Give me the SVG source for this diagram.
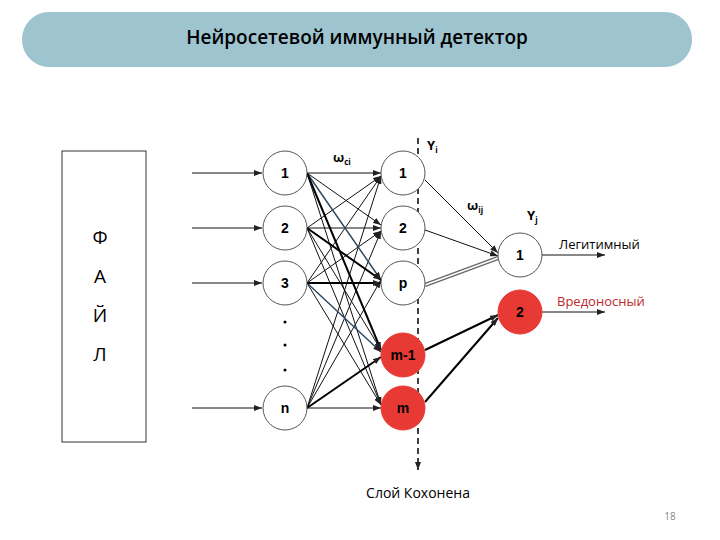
<svg xmlns="http://www.w3.org/2000/svg" width="720" height="540" viewBox="0 0 720 540">
<defs>
<marker id="a" markerWidth="8" markerHeight="6" refX="8" refY="3" orient="auto" markerUnits="userSpaceOnUse"><path d="M0,0 L8,3 L0,6 Z" fill="#222"/></marker>
<style>
.t{font-family:"Open Sans","Liberation Sans",sans-serif}
.n{fill:#fff;stroke:#555;stroke-width:1}
.r{fill:#e83a35;stroke:#e83a35}
line{marker-end:url(#a)}
.l{stroke:#111;stroke-width:1}
.b{stroke:#2c4a66;stroke-width:1.5}
.k{stroke:#000;stroke-width:2}
.lb{font-size:14px;font-weight:bold;text-anchor:middle;font-family:"Liberation Sans",sans-serif}
</style>
</defs>
<rect x="22" y="12" width="670" height="55" rx="27" fill="#9ec4d0"/>
<text class="t" x="357" y="44" font-size="19" font-weight="600" text-anchor="middle">Нейросетевой иммунный детектор</text>
<g id="file"><rect x="62" y="151" width="84" height="291" fill="#fff" stroke="#333"/>
<text class="t" font-size="19" text-anchor="middle"><tspan x="100" y="244">Ф</tspan><tspan x="100" y="283">А</tspan><tspan x="100" y="322">Й</tspan><tspan x="100" y="361">Л</tspan></text></g>
<g id="connectors">
<g class="l">
<line x1="192" y1="173" x2="262" y2="173"/><line x1="192" y1="228" x2="262" y2="228"/><line x1="192" y1="283" x2="262" y2="283"/><line x1="192" y1="408" x2="262" y2="408"/>
<line x1="307" y1="173" x2="381" y2="173"/><line x1="307" y1="173" x2="381" y2="225"/><line x1="307" y1="173" x2="381" y2="405"/>
<line x1="307" y1="228" x2="381" y2="176"/><line x1="307" y1="228" x2="381" y2="228"/><line x1="307" y1="228" x2="381" y2="350"/><line x1="307" y1="228" x2="381" y2="405"/>
<line x1="307" y1="283" x2="381" y2="176"/><line x1="307" y1="283" x2="381" y2="231"/><line x1="307" y1="283" x2="381" y2="405"/>
<line x1="307" y1="408" x2="381" y2="176"/><line x1="307" y1="408" x2="381" y2="231"/><line x1="307" y1="408" x2="381" y2="280"/><line x1="307" y1="408" x2="381" y2="408"/>
<line x1="425" y1="180" x2="498" y2="253"/><line x1="425" y1="230" x2="498" y2="256"/>
<line x1="542" y1="255" x2="605" y2="255"/><line x1="542" y1="312" x2="605" y2="312"/>
</g>
<g class="b"><line x1="307" y1="173" x2="381" y2="280"/><line x1="307" y1="283" x2="381" y2="352"/></g>
<g class="k"><line x1="307" y1="173" x2="381" y2="350"/><line x1="307" y1="228" x2="381" y2="280"/><line x1="307" y1="283" x2="381" y2="283"/><line x1="307" y1="408" x2="381" y2="357"/>
<line x1="425" y1="350" x2="498" y2="315"/><line x1="425" y1="402" x2="498" y2="318"/></g>
<path d="M425,285L498,258" stroke="#666" stroke-width="4" fill="none"/>
<path d="M425,285L498,258" stroke="#fff" stroke-width="1.5" fill="none"/>
<path d="M418,138V470" stroke="#000" stroke-width="1.5" stroke-dasharray="6,4" fill="none" marker-end="url(#a)"/>
</g>
<g id="in1"><circle class="n" cx="285" cy="173" r="22"/><text class="lb" x="285" y="178">1</text></g>
<g id="in2"><circle class="n" cx="285" cy="228" r="22"/><text class="lb" x="285" y="233">2</text></g>
<g id="in3"><circle class="n" cx="285" cy="283" r="22"/><text class="lb" x="285" y="288">3</text></g>
<g id="dots"><circle cx="285" cy="322" r="1.5"/><circle cx="285" cy="345" r="1.5"/><circle cx="285" cy="370" r="1.5"/></g>
<g id="inn"><circle class="n" cx="285" cy="408" r="22"/><text class="lb" x="285" y="413">n</text></g>
<g id="k1"><circle class="n" cx="403" cy="173" r="22"/><text class="lb" x="403" y="178">1</text></g>
<g id="k2"><circle class="n" cx="403" cy="228" r="22"/><text class="lb" x="403" y="233">2</text></g>
<g id="kp"><circle class="n" cx="403" cy="283" r="22"/><text class="lb" x="403" y="288">p</text></g>
<g id="km1"><circle class="r" cx="403" cy="355" r="22"/><text class="lb" x="403" y="360">m-1</text></g>
<g id="km"><circle class="r" cx="403" cy="408" r="22"/><text class="lb" x="403" y="413">m</text></g>
<g id="o1"><circle class="n" cx="520" cy="255" r="22"/><text class="lb" x="520" y="260">1</text></g>
<g id="o2"><circle class="r" cx="520" cy="312" r="22"/><text class="lb" x="520" y="317">2</text></g>
<g class="t" font-weight="bold" font-size="13">
<text x="333" y="162">ω<tspan font-size="8" dy="3">ci</tspan></text>
<text x="427" y="150">Y<tspan font-size="8" dy="3">i</tspan></text>
<text x="467" y="210">ω<tspan font-size="8" dy="3">ij</tspan></text>
<text x="527" y="220">Y<tspan font-size="8" dy="3">j</tspan></text>
</g>
<text class="t" x="559" y="249" font-size="13">Легитимный</text>
<text class="t" x="557" y="306" font-size="13" fill="#c0282a">Вредоносный</text>
<text class="t" x="418" y="498" font-size="14" text-anchor="middle">Слой Кохонена</text>
<text class="t" x="670" y="520" font-size="10" fill="#888" text-anchor="middle">18</text>
</svg>
